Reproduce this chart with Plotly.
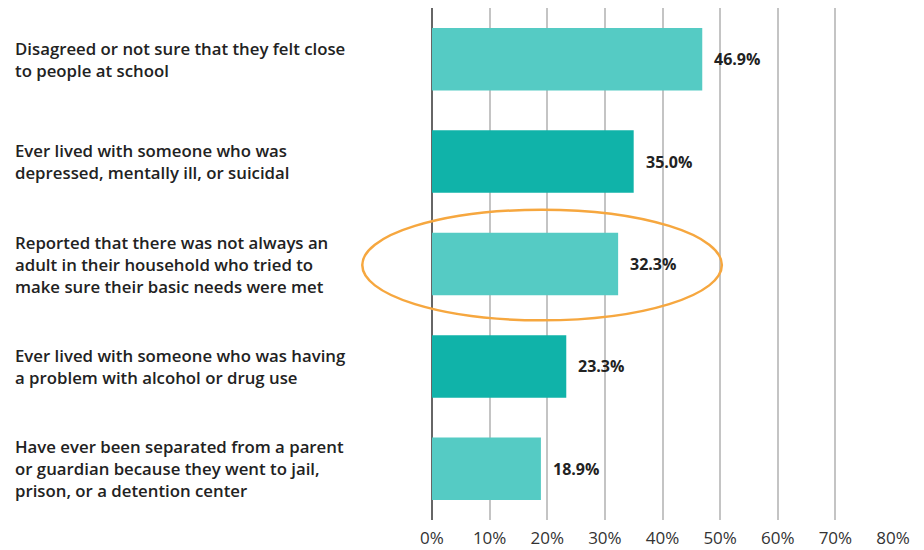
import plotly.graph_objects as go

categories = [
    "Disagreed or not sure that they felt close<br>to people at school",
    "Ever lived with someone who was<br>depressed, mentally ill, or suicidal",
    "Reported that there was not always an<br>adult in their household who tried to<br>make sure their basic needs were met",
    "Ever lived with someone who was having<br>a problem with alcohol or drug use",
    "Have ever been separated from a parent<br>or guardian because they went to jail,<br>prison, or a detention center",
]
values = [46.9, 35.0, 32.3, 23.3, 18.9]
bar_colors = ["#55CBC4", "#10B3A9", "#55CBC4", "#10B3A9", "#55CBC4"]
tick_vals = [0, 10, 20, 30, 40, 50, 60, 70, 80]
tick_text = ["0%", "10%", "20%", "30%", "40%", "50%", "60%", "70%", "80%"]
highlight_index = 2

# page has an 8px body margin
W, H = 916, 542
ml, mr, mt, mb = 424, 31, 0, 30
xmax = 80
pw = W - ml - mr
ph = H - mt - mb
FONT = "Open Sans"

fig = go.Figure()
fig.add_trace(go.Bar(
    y=list(range(len(categories))),
    x=values,
    orientation="h",
    marker=dict(color=bar_colors, line=dict(width=0)),
    width=0.61,
    hoverinfo="skip",
))

annotations = []
for i, c in enumerate(categories):
    annotations.append(dict(
        x=-(ml - 5) / pw, xref="paper", y=i, yref="y",
        text=c, showarrow=False, xanchor="left", yanchor="middle", align="left",
        font=dict(family=FONT, size=16.8, color="#222222", weight=600),
    ))
for i, v in enumerate(values):
    annotations.append(dict(
        x=v, xref="x", y=i, yref="y", text=f"{v:.1f}%", showarrow=False,
        xanchor="left", yanchor="middle", xshift=10,
        font=dict(family=FONT, size=16, color="#222222", weight=700),
    ))

n = len(categories)
def ypaper(v):
    return 1 - (v + 0.5) / n
ex0 = -12.1 / xmax
ex1 = 50.3 / xmax
fig.add_shape(type="circle", xref="paper", yref="paper",
              x0=ex0, x1=ex1,
              y0=ypaper(highlight_index + 0.55), y1=ypaper(highlight_index - 0.53),
              line=dict(color="#F6A73F", width=2.5), layer="above")

fig.update_layout(
    width=W, height=H,
    margin=dict(l=ml, r=mr, t=mt, b=mb),
    plot_bgcolor="white", paper_bgcolor="white",
    showlegend=False,
    annotations=annotations,
    xaxis=dict(range=[0, xmax], tickvals=tick_vals, ticktext=tick_text,
               showgrid=True, gridcolor="#C4C4C4", gridwidth=1.5,
               zeroline=True, zerolinecolor="#666666", zerolinewidth=2,
               tickfont=dict(family=FONT, size=17, color="#333333"),
               ticklabelstandoff=6,
               ticks="", fixedrange=True, automargin=False),
    yaxis=dict(range=[n - 0.5, -0.5], showticklabels=False, showgrid=False,
               zeroline=False, ticks="", automargin=False),
)

fig.write_html("out.html")
